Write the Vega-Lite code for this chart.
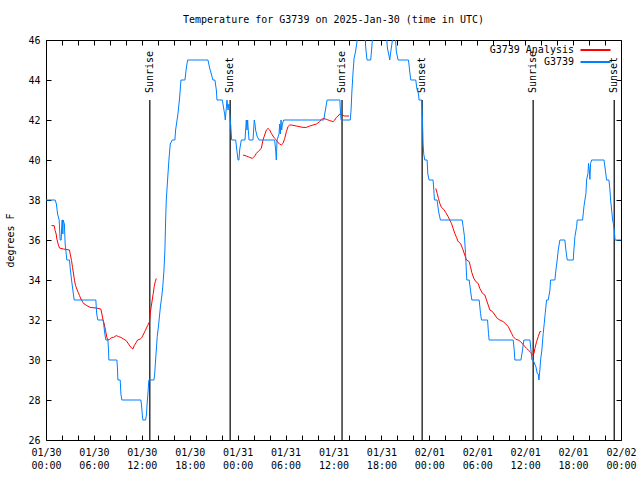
{
  "$schema": "https://vega.github.io/schema/vega-lite/v6.json",
  "width": 575,
  "height": 400,
  "autosize": {"type": "none"},
  "padding": {"left": 46, "top": 40, "right": 19, "bottom": 40},
  "background": "#ffffff",
  "title": {"text": "Temperature for G3739 on 2025-Jan-30 (time in UTC)", "font": "DejaVu Sans Mono", "fontSize": 10, "fontWeight": "normal", "color": "#000000", "anchor": "middle", "offset": 10},
  "config": {
    "font": "DejaVu Sans Mono",
    "view": {"stroke": "#000000", "strokeWidth": 1},
    "axis": {"domain": false, "grid": false, "tickColor": "#000000", "tickWidth": 1, "tickSize": -5, "labelColor": "#000000", "labelFont": "DejaVu Sans Mono", "labelFontSize": 10, "titleFont": "DejaVu Sans Mono", "titleFontSize": 10, "titleFontWeight": "normal", "titleColor": "#000000"}
  },
  "datasets": {
    "sun": [
      {"event": "Sunrise", "hour": 13.0},
      {"event": "Sunset", "hour": 23.06},
      {"event": "Sunrise", "hour": 37.07},
      {"event": "Sunset", "hour": 47.1},
      {"event": "Sunrise", "hour": 61.0},
      {"event": "Sunset", "hour": 71.15}
    ],
    "analysis": [
      {"seg":1,"hour":0.69,"temp":36.72},{"seg":1,"hour":1.02,"temp":36.72},{"seg":1,"hour":1.15,"temp":36.47},{"seg":1,"hour":1.27,"temp":36.3},{"seg":1,"hour":1.36,"temp":36.05},{"seg":1,"hour":1.52,"temp":35.8},{"seg":1,"hour":1.69,"temp":35.6},{"seg":1,"hour":2.19,"temp":35.55},{"seg":1,"hour":2.94,"temp":35.5},{"seg":1,"hour":3.03,"temp":35.3},{"seg":1,"hour":3.2,"temp":34.97},{"seg":1,"hour":3.32,"temp":34.63},{"seg":1,"hour":3.45,"temp":34.3},{"seg":1,"hour":3.57,"temp":33.97},{"seg":1,"hour":3.7,"temp":33.72},{"seg":1,"hour":3.86,"temp":33.55},{"seg":1,"hour":4.03,"temp":33.38},{"seg":1,"hour":4.2,"temp":33.22},{"seg":1,"hour":4.37,"temp":33.05},{"seg":1,"hour":4.62,"temp":32.88},{"seg":1,"hour":4.78,"temp":32.8},{"seg":1,"hour":5.12,"temp":32.72},{"seg":1,"hour":5.53,"temp":32.63},{"seg":1,"hour":6.29,"temp":32.6},{"seg":1,"hour":6.87,"temp":32.55},{"seg":1,"hour":7.0,"temp":32.3},{"seg":1,"hour":7.12,"temp":32.05},{"seg":1,"hour":7.29,"temp":31.8},{"seg":1,"hour":7.46,"temp":31.47},{"seg":1,"hour":7.62,"temp":31.13},{"seg":1,"hour":7.75,"temp":31.0},{"seg":1,"hour":7.96,"temp":31.03},{"seg":1,"hour":8.25,"temp":31.13},{"seg":1,"hour":8.46,"temp":31.13},{"seg":1,"hour":8.79,"temp":31.22},{"seg":1,"hour":9.08,"temp":31.17},{"seg":1,"hour":9.38,"temp":31.13},{"seg":1,"hour":9.71,"temp":31.05},{"seg":1,"hour":10.04,"temp":30.97},{"seg":1,"hour":10.34,"temp":30.8},{"seg":1,"hour":10.63,"temp":30.63},{"seg":1,"hour":10.88,"temp":30.55},{"seg":1,"hour":11.05,"temp":30.72},{"seg":1,"hour":11.3,"temp":30.88},{"seg":1,"hour":11.47,"temp":31.0},{"seg":1,"hour":11.8,"temp":31.05},{"seg":1,"hour":12.01,"temp":31.13},{"seg":1,"hour":12.22,"temp":31.3},{"seg":1,"hour":12.43,"temp":31.47},{"seg":1,"hour":12.72,"temp":31.72},{"seg":1,"hour":12.97,"temp":31.92},{"seg":1,"hour":13.05,"temp":32.33},{"seg":1,"hour":13.18,"temp":32.67},{"seg":1,"hour":13.3,"temp":33.0},{"seg":1,"hour":13.43,"temp":33.33},{"seg":1,"hour":13.55,"temp":33.67},{"seg":1,"hour":13.68,"temp":33.92},{"seg":1,"hour":13.81,"temp":34.08},
      {"seg":2,"hour":24.66,"temp":40.25},{"seg":2,"hour":25.08,"temp":40.2},{"seg":2,"hour":25.5,"temp":40.13},{"seg":2,"hour":25.84,"temp":40.08},{"seg":2,"hour":26.13,"temp":40.2},{"seg":2,"hour":26.34,"temp":40.33},{"seg":2,"hour":26.67,"temp":40.47},{"seg":2,"hour":26.96,"temp":40.58},{"seg":2,"hour":27.17,"temp":41.0},{"seg":2,"hour":27.38,"temp":41.25},{"seg":2,"hour":27.59,"temp":41.5},{"seg":2,"hour":27.8,"temp":41.58},{"seg":2,"hour":28.01,"temp":41.5},{"seg":2,"hour":28.22,"temp":41.33},{"seg":2,"hour":28.42,"temp":41.2},{"seg":2,"hour":28.63,"temp":41.08},{"seg":2,"hour":28.84,"temp":41.0},{"seg":2,"hour":29.05,"temp":40.87},{"seg":2,"hour":29.26,"temp":40.8},{"seg":2,"hour":29.47,"temp":40.75},{"seg":2,"hour":29.68,"temp":40.83},{"seg":2,"hour":29.89,"temp":41.08},{"seg":2,"hour":30.1,"temp":41.42},{"seg":2,"hour":30.3,"temp":41.67},{"seg":2,"hour":30.51,"temp":41.75},{"seg":2,"hour":30.72,"temp":41.75},{"seg":2,"hour":31.35,"temp":41.7},{"seg":2,"hour":32.19,"temp":41.63},{"seg":2,"hour":32.6,"temp":41.63},{"seg":2,"hour":33.02,"temp":41.7},{"seg":2,"hour":33.44,"temp":41.75},{"seg":2,"hour":33.86,"temp":41.8},{"seg":2,"hour":34.27,"temp":41.92},{"seg":2,"hour":34.48,"temp":42.03},{"seg":2,"hour":34.78,"temp":42.08},{"seg":2,"hour":35.12,"temp":42.03},{"seg":2,"hour":35.53,"temp":41.97},{"seg":2,"hour":35.95,"temp":41.92},{"seg":2,"hour":36.16,"temp":42.0},{"seg":2,"hour":36.36,"temp":42.13},{"seg":2,"hour":36.57,"temp":42.2},{"seg":2,"hour":36.78,"temp":42.3},{"seg":2,"hour":36.99,"temp":42.25},{"seg":2,"hour":37.41,"temp":42.2},{"seg":2,"hour":37.95,"temp":42.2},
      {"seg":3,"hour":48.81,"temp":38.58},{"seg":3,"hour":48.98,"temp":38.33},{"seg":3,"hour":49.14,"temp":38.08},{"seg":3,"hour":49.31,"temp":37.83},{"seg":3,"hour":49.52,"temp":37.63},{"seg":3,"hour":49.81,"temp":37.53},{"seg":3,"hour":50.06,"temp":37.37},{"seg":3,"hour":50.35,"temp":37.17},{"seg":3,"hour":50.56,"temp":37.0},{"seg":3,"hour":50.77,"temp":36.83},{"seg":3,"hour":50.98,"temp":36.58},{"seg":3,"hour":51.19,"temp":36.33},{"seg":3,"hour":51.4,"temp":36.13},{"seg":3,"hour":51.61,"temp":35.92},{"seg":3,"hour":51.9,"temp":35.83},{"seg":3,"hour":52.15,"temp":35.58},{"seg":3,"hour":52.44,"temp":35.25},{"seg":3,"hour":52.65,"temp":35.0},{"seg":3,"hour":52.99,"temp":34.92},{"seg":3,"hour":53.15,"temp":34.67},{"seg":3,"hour":53.32,"temp":34.37},{"seg":3,"hour":53.57,"temp":34.08},{"seg":3,"hour":53.82,"temp":33.92},{"seg":3,"hour":54.11,"temp":33.83},{"seg":3,"hour":54.32,"temp":33.58},{"seg":3,"hour":54.66,"temp":33.33},{"seg":3,"hour":54.95,"temp":33.25},{"seg":3,"hour":55.16,"temp":33.0},{"seg":3,"hour":55.37,"temp":32.75},{"seg":3,"hour":55.58,"temp":32.5},{"seg":3,"hour":55.91,"temp":32.42},{"seg":3,"hour":56.21,"temp":32.25},{"seg":3,"hour":56.5,"temp":32.08},{"seg":3,"hour":56.83,"temp":32.0},{"seg":3,"hour":57.25,"temp":31.92},{"seg":3,"hour":57.58,"temp":31.8},{"seg":3,"hour":57.88,"temp":31.67},{"seg":3,"hour":58.09,"temp":31.5},{"seg":3,"hour":58.3,"temp":31.33},{"seg":3,"hour":58.5,"temp":31.17},{"seg":3,"hour":58.84,"temp":31.03},{"seg":3,"hour":59.13,"temp":31.0},{"seg":3,"hour":59.43,"temp":30.92},{"seg":3,"hour":59.68,"temp":30.8},{"seg":3,"hour":59.97,"temp":30.67},{"seg":3,"hour":60.18,"temp":30.58},{"seg":3,"hour":60.39,"temp":30.5},{"seg":3,"hour":60.6,"temp":30.42},{"seg":3,"hour":60.81,"temp":30.33},{"seg":3,"hour":60.93,"temp":30.25},{"seg":3,"hour":61.1,"temp":30.33},{"seg":3,"hour":61.22,"temp":30.58},{"seg":3,"hour":61.43,"temp":30.92},{"seg":3,"hour":61.64,"temp":31.17},{"seg":3,"hour":61.85,"temp":31.42},{"seg":3,"hour":62.01,"temp":31.42}
    ],
    "observed": [
      {"hour":0,"temp":38},{"hour":1.15,"temp":38},{"hour":1.3,"temp":37.8},{"hour":1.45,"temp":37.3},{"hour":1.65,"temp":37},{"hour":1.77,"temp":36},{"hour":1.9,"temp":36},{"hour":2.0,"temp":37},{"hour":2.07,"temp":37},{"hour":2.11,"temp":36.3},{"hour":2.15,"temp":37},{"hour":2.3,"temp":36.8},{"hour":2.4,"temp":35.8},{"hour":2.48,"temp":35.5},{"hour":2.61,"temp":35},{"hour":2.94,"temp":35},{"hour":3.03,"temp":34.6},{"hour":3.2,"temp":34},{"hour":3.36,"temp":33.5},{"hour":3.53,"temp":33},{"hour":6.24,"temp":33},{"hour":6.35,"temp":32.3},{"hour":6.49,"temp":32},{"hour":7.16,"temp":32},{"hour":7.25,"temp":31.7},{"hour":7.37,"temp":31.3},{"hour":7.5,"temp":31},{"hour":7.75,"temp":31},{"hour":7.83,"temp":30.5},{"hour":7.87,"temp":30},{"hour":8.88,"temp":30},{"hour":8.96,"temp":29.5},{"hour":9.0,"temp":29},{"hour":9.29,"temp":29},{"hour":9.38,"temp":28.3},{"hour":9.5,"temp":28},{"hour":11.88,"temp":28},{"hour":11.97,"temp":27.7},{"hour":12.05,"temp":27.3},{"hour":12.13,"temp":27},{"hour":12.47,"temp":27},{"hour":12.59,"temp":27.3},{"hour":12.64,"temp":27.7},{"hour":12.76,"temp":28.3},{"hour":12.88,"temp":29},{"hour":13.51,"temp":29},{"hour":13.6,"temp":29.25},{"hour":13.68,"temp":29.75},{"hour":13.81,"temp":30.5},{"hour":13.93,"temp":31.17},{"hour":14.1,"temp":31.75},{"hour":14.22,"temp":32.25},{"hour":14.35,"temp":32.75},{"hour":14.52,"temp":33.25},{"hour":14.64,"temp":33.75},{"hour":14.77,"temp":34.5},{"hour":14.89,"temp":35.5},{"hour":14.98,"temp":37},{"hour":15.06,"temp":38},{"hour":15.39,"temp":40},{"hour":15.56,"temp":40.8},{"hour":15.81,"temp":41},{"hour":16.14,"temp":41},{"hour":16.23,"temp":41.5},{"hour":16.52,"temp":42.3},{"hour":16.73,"temp":43.1},{"hour":16.9,"temp":44},{"hour":17.4,"temp":44},{"hour":17.57,"temp":44.6},{"hour":17.73,"temp":45},{"hour":20.28,"temp":45},{"hour":20.49,"temp":44.6},{"hour":20.7,"temp":44.3},{"hour":20.9,"temp":44},{"hour":21.15,"temp":44},{"hour":21.33,"temp":43.5},{"hour":21.41,"temp":43},{"hour":22.08,"temp":43},{"hour":22.24,"temp":42.6},{"hour":22.37,"temp":42.3},{"hour":22.45,"temp":42},{"hour":22.58,"temp":42.6},{"hour":22.66,"temp":43},{"hour":22.79,"temp":42.5},{"hour":22.91,"temp":42.8},{"hour":23.0,"temp":42.3},{"hour":23.12,"temp":41.8},{"hour":23.25,"temp":41},{"hour":23.75,"temp":41},{"hour":24.04,"temp":40},{"hour":24.16,"temp":40},{"hour":24.25,"temp":40.5},{"hour":24.37,"temp":40.8},{"hour":24.46,"temp":41},{"hour":24.92,"temp":41},{"hour":25.0,"temp":41.5},{"hour":25.08,"temp":42},{"hour":25.17,"temp":41.5},{"hour":25.25,"temp":42},{"hour":25.33,"temp":41.5},{"hour":25.42,"temp":41},{"hour":25.92,"temp":41},{"hour":26.0,"temp":41.5},{"hour":26.08,"temp":42},{"hour":26.17,"temp":41.8},{"hour":26.25,"temp":41.5},{"hour":26.42,"temp":41.2},{"hour":26.67,"temp":41},{"hour":28.63,"temp":41},{"hour":28.76,"temp":40.5},{"hour":28.84,"temp":40},{"hour":28.93,"temp":41},{"hour":29.18,"temp":41.3},{"hour":29.26,"temp":41.8},{"hour":29.34,"temp":41.3},{"hour":29.43,"temp":42},{"hour":29.51,"temp":41.5},{"hour":29.6,"temp":41.8},{"hour":29.76,"temp":42},{"hour":34.78,"temp":42},{"hour":34.9,"temp":42.3},{"hour":35.03,"temp":42.6},{"hour":35.2,"temp":43},{"hour":36.8,"temp":43},{"hour":36.86,"temp":42.5},{"hour":36.95,"temp":42},{"hour":38.1,"temp":42},{"hour":38.2,"temp":42.5},{"hour":38.3,"temp":43.4},{"hour":38.45,"temp":44.4},{"hour":38.58,"temp":45.1},{"hour":38.75,"temp":45.4},{"hour":38.9,"temp":45.8},{"hour":39.05,"temp":46.3},{"hour":39.15,"temp":47},{"hour":39.85,"temp":47},{"hour":39.95,"temp":46.2},{"hour":40.04,"temp":45.6},{"hour":40.2,"temp":45},{"hour":40.66,"temp":45},{"hour":40.79,"temp":45.6},{"hour":40.88,"temp":46.1},{"hour":40.95,"temp":47},{"hour":42.55,"temp":47},{"hour":42.63,"temp":46.2},{"hour":42.75,"temp":45.6},{"hour":42.96,"temp":45.2},{"hour":43.04,"temp":45},{"hour":43.17,"temp":45.4},{"hour":43.38,"temp":46},{"hour":43.46,"temp":47},{"hour":43.65,"temp":47},{"hour":43.75,"temp":46.1},{"hour":43.88,"temp":45.4},{"hour":44.09,"temp":45},{"hour":45.39,"temp":45},{"hour":45.55,"temp":44.4},{"hour":45.68,"temp":44},{"hour":46.3,"temp":44},{"hour":46.43,"temp":43.6},{"hour":46.64,"temp":43.3},{"hour":46.72,"temp":43},{"hour":47.05,"temp":43},{"hour":47.14,"temp":42},{"hour":47.22,"temp":40.8},{"hour":47.3,"temp":40.3},{"hour":47.43,"temp":40},{"hour":47.72,"temp":40},{"hour":47.81,"temp":39.3},{"hour":47.97,"temp":39},{"hour":48.47,"temp":39},{"hour":48.56,"temp":38.5},{"hour":48.64,"temp":38},{"hour":48.97,"temp":38},{"hour":49.1,"temp":37.6},{"hour":49.22,"temp":37.3},{"hour":49.39,"temp":37},{"hour":52.11,"temp":37},{"hour":52.23,"temp":36.67},{"hour":52.4,"temp":36.17},{"hour":52.53,"temp":35.33},{"hour":52.69,"temp":34},{"hour":52.99,"temp":34},{"hour":53.15,"temp":33.5},{"hour":53.32,"temp":33},{"hour":54.24,"temp":33},{"hour":54.41,"temp":32.33},{"hour":54.53,"temp":32},{"hour":55.29,"temp":32},{"hour":55.41,"temp":31.33},{"hour":55.49,"temp":31},{"hour":58.5,"temp":31},{"hour":58.63,"temp":30.5},{"hour":58.71,"temp":30},{"hour":59.47,"temp":30},{"hour":59.67,"temp":30.5},{"hour":59.84,"temp":31},{"hour":60.6,"temp":31},{"hour":60.72,"temp":30.5},{"hour":60.85,"temp":30},{"hour":61.0,"temp":30},{"hour":61.09,"temp":29.9},{"hour":61.34,"temp":29.67},{"hour":61.51,"temp":29.33},{"hour":61.64,"temp":29.3},{"hour":61.72,"temp":29},{"hour":61.84,"temp":29.5},{"hour":61.93,"temp":30},{"hour":62.09,"temp":30.5},{"hour":62.26,"temp":31.33},{"hour":62.39,"temp":31.83},{"hour":62.51,"temp":32.33},{"hour":62.68,"temp":33},{"hour":62.89,"temp":33},{"hour":63.1,"temp":33.5},{"hour":63.18,"temp":34},{"hour":63.72,"temp":34},{"hour":63.85,"temp":34.5},{"hour":64.01,"temp":35},{"hour":64.14,"temp":35.5},{"hour":64.35,"temp":36},{"hour":64.97,"temp":36},{"hour":65.1,"temp":35.5},{"hour":65.27,"temp":35},{"hour":66.02,"temp":35},{"hour":66.1,"temp":35.5},{"hour":66.23,"temp":36.17},{"hour":66.44,"temp":36.67},{"hour":66.52,"temp":37},{"hour":67.19,"temp":37},{"hour":67.36,"temp":37.67},{"hour":67.48,"temp":38},{"hour":67.61,"temp":38.33},{"hour":67.69,"temp":39},{"hour":67.86,"temp":39.33},{"hour":67.94,"temp":39.83},{"hour":68.03,"temp":39.5},{"hour":68.11,"temp":39.03},{"hour":68.19,"temp":39.83},{"hour":68.32,"temp":40},{"hour":69.87,"temp":40},{"hour":70.04,"temp":39.5},{"hour":70.2,"temp":39},{"hour":70.49,"temp":39},{"hour":70.62,"temp":38.5},{"hour":70.7,"temp":38},{"hour":70.83,"temp":37.5},{"hour":70.95,"temp":37},{"hour":71.04,"temp":36.83},{"hour":71.16,"temp":36.5},{"hour":71.25,"temp":36},{"hour":72,"temp":36}
    ]
  },
  "layer": [
    {
      "data": {"name": "sun"},
      "mark": {"type": "rule", "color": "#000000", "strokeWidth": 1.2},
      "encoding": {
        "x": {"field": "hour", "type": "quantitative", "scale": {"domain": [0, 72], "nice": false, "zero": false},
          "axis": {"orient": "bottom", "title": null, "values": [0,2,4,6,8,10,12,14,16,18,20,22,24,26,28,30,32,34,36,38,40,42,44,46,48,50,52,54,56,58,60,62,64,66,68,70,72],
            "labelExpr": "datum.value % 6 == 0 ? [['01/30','01/31','02/01','02/02'][floor(datum.value / 24)], (datum.value % 24 < 10 ? '0' : '') + (datum.value % 24) + ':00'] : ''",
            "labelPadding": 12, "labelFlush": false, "labelOverlap": false, "labelBound": false, "labelLineHeight": 13}},
        "y": {"datum": 26, "type": "quantitative", "scale": {"domain": [26, 46], "nice": false, "zero": false},
          "axis": {"orient": "left", "title": "degrees F", "values": [26,28,30,32,34,36,38,40,42,44,46], "labelPadding": 11, "titlePadding": 12}},
        "y2": {"datum": 43}
      }
    },
    {
      "data": {"name": "sun"},
      "mark": {"type": "text", "font": "DejaVu Sans Mono", "fontSize": 10, "angle": 270, "align": "left", "baseline": "middle", "dx": 7, "color": "#000000"},
      "encoding": {
        "x": {"field": "hour", "type": "quantitative", "axis": null},
        "y": {"datum": 43, "type": "quantitative", "axis": null},
        "text": {"field": "event"}
      }
    },
    {
      "data": {"name": "analysis"},
      "mark": {"type": "line", "strokeWidth": 1, "clip": true},
      "encoding": {
        "x": {"field": "hour", "type": "quantitative", "axis": null},
        "y": {"field": "temp", "type": "quantitative", "axis": null},
        "detail": {"field": "seg"},
        "color": {"datum": "G3739 Analysis", "scale": {"domain": ["G3739 Analysis", "G3739"], "range": ["#ff0000", "#0080ff"]},
          "legend": {"title": null, "orient": "none", "legendX": 544, "legendY": 4.5, "direction": "vertical", "symbolType": "M-3.333,0H3.333", "symbolSize": 81, "symbolStrokeWidth": 2, "symbolFillColor": "transparent", "labelAlign": "right", "labelOffset": -27, "labelFont": "DejaVu Sans Mono", "labelFontSize": 10, "labelColor": "#000000", "rowPadding": 1, "padding": 0}}
      }
    },
    {
      "data": {"name": "observed"},
      "mark": {"type": "line", "strokeWidth": 1, "clip": true},
      "encoding": {
        "x": {"field": "hour", "type": "quantitative",
          "axis": {"orient": "top", "title": null, "labels": false, "values": [0,2,4,6,8,10,12,14,16,18,20,22,24,26,28,30,32,34,36,38,40,42,44,46,48,50,52,54,56,58,60,62,64,66,68,70,72]}},
        "y": {"field": "temp", "type": "quantitative",
          "axis": {"orient": "right", "title": null, "labels": false, "values": [26,28,30,32,34,36,38,40,42,44,46]}},
        "color": {"datum": "G3739",
          "legend": {"title": null, "orient": "none", "legendX": 544, "legendY": 4.5, "direction": "vertical", "symbolType": "M-3.333,0H3.333", "symbolSize": 81, "symbolStrokeWidth": 2, "symbolFillColor": "transparent", "labelAlign": "right", "labelOffset": -27, "labelFont": "DejaVu Sans Mono", "labelFontSize": 10, "labelColor": "#000000", "rowPadding": 1, "padding": 0}}
      }
    }
  ],
  "resolve": {"axis": {"x": "independent", "y": "independent"}}
}
